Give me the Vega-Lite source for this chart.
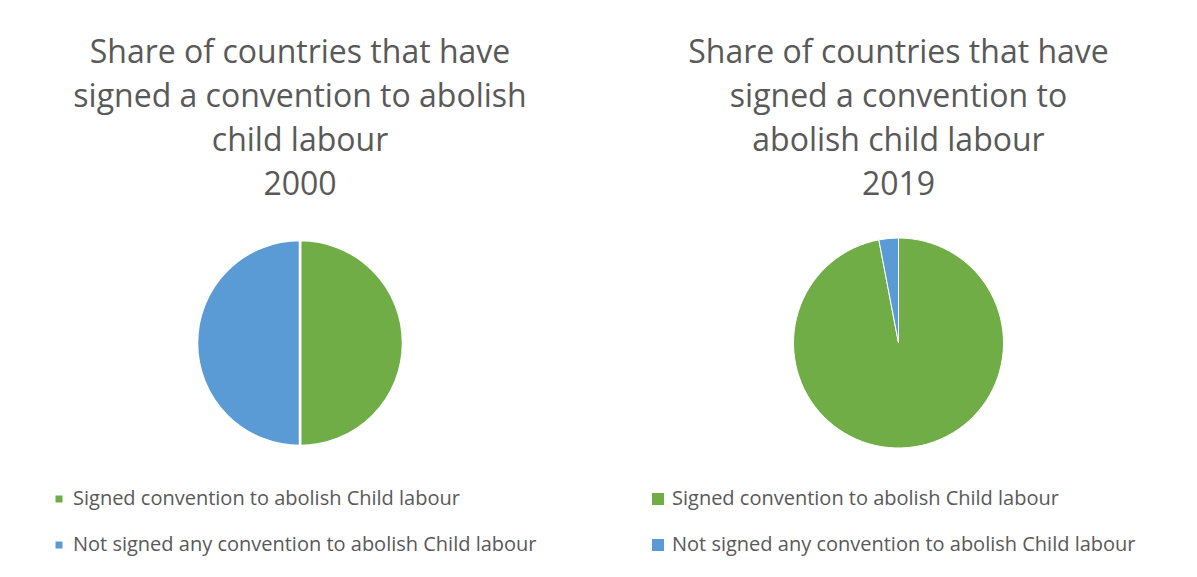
{
  "$schema": "https://vega.github.io/schema/vega-lite/v6.json",
  "background": "white",
  "padding": {"left": 0, "right": 0, "top": 37, "bottom": 20},
  "spacing": 0,
  "config": {
    "view": {"stroke": null},
    "font": "Open Sans",
    "title": {"fontSize": 32, "lineHeight": 44, "color": "#595959", "fontWeight": "normal", "anchor": "middle", "offset": 21},
    "legend": {"labelFontSize": 20, "labelColor": "#595959", "symbolType": "square", "symbolStrokeWidth": 0, "rowPadding": 26, "labelLimit": 600, "orient": "none", "direction": "vertical"}
  },
  "resolve": {"scale": {"color": "independent"}, "legend": {"color": "independent"}},
  "hconcat": [
    {
      "width": 600,
      "height": 240,
      "title": {"text": ["Share of countries that have", "signed a convention to abolish", "child labour", "2000"]},
      "data": {"values": [
        {"status": "Signed convention to abolish Child labour", "share": 50, "ord": 1},
        {"status": "Not signed any convention to abolish Child labour", "share": 50, "ord": 2}
      ]},
      "mark": {"type": "arc", "outerRadius": 103, "stroke": "white", "strokeWidth": 2.5},
      "encoding": {
        "theta": {"field": "share", "type": "quantitative", "stack": true},
        "order": {"field": "ord", "type": "quantitative"},
        "color": {
          "field": "status", "type": "nominal",
          "scale": {"domain": ["Signed convention to abolish Child labour", "Not signed any convention to abolish Child labour"], "range": ["#70AD47", "#5B9BD5"]},
          "legend": {"title": null, "legendX": 49, "legendY": 266, "symbolSize": 49}
        }
      }
    },
    {
      "width": 597,
      "height": 240,
      "title": {"text": ["Share of countries that have", "signed a convention to", "abolish child labour", "2019"]},
      "data": {"values": [
        {"status": "Signed convention to abolish Child labour", "share": 97, "ord": 1},
        {"status": "Not signed any convention to abolish Child labour", "share": 3, "ord": 2}
      ]},
      "mark": {"type": "arc", "outerRadius": 105, "stroke": "white", "strokeWidth": 1},
      "encoding": {
        "theta": {"field": "share", "type": "quantitative", "stack": true},
        "order": {"field": "ord", "type": "quantitative"},
        "color": {
          "field": "status", "type": "nominal",
          "scale": {"domain": ["Signed convention to abolish Child labour", "Not signed any convention to abolish Child labour"], "range": ["#70AD47", "#5B9BD5"]},
          "legend": {"title": null, "legendX": 48, "legendY": 266, "symbolSize": 144}
        }
      }
    }
  ]
}
